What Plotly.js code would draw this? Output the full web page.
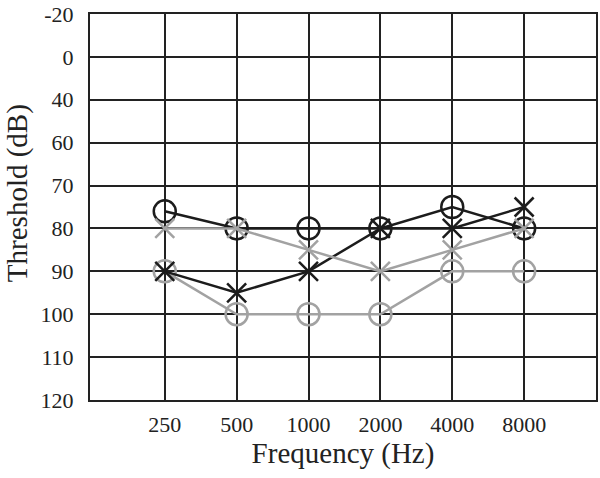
<!DOCTYPE html>
<html>
<head>
<meta charset="utf-8">
<script src="https://cdn.plot.ly/plotly-3.0.1.min.js"></script>
<style>html,body{margin:0;padding:0;background:#fff;}#chart{width:600px;height:478px;}</style>
</head>
<body>
<div id="chart"></div>
<script>
// Frequencies (Hz) as categories
const frequencies = ['250', '500', '1000', '2000', '4000', '8000'];
// Threshold values (dB) per series
const blackCircle = [76, 80, 80, 80, 75, 80];
const blackCross  = [90, 95, 90, 80, 80, 75];
const grayCross   = [80, 80, 85, 90, 85, 80];
const grayCircle  = [90, 100, 100, 100, 90, 90];
// Y tick layout: compressed upper part of the audiogram
const yTickVals = [30, 40, 50, 60, 70, 80, 90, 100, 110, 120];
const yTickText = ['-20', '0', '40', '60', '70', '80', '90', '100', '110', '120'];

const BLACK = '#1c1c1c';
const GRAY = '#a2a2a2';

function series(y, color, symbol, size) {
  return {
    type: 'scatter', mode: 'lines+markers',
    x: frequencies, y: y,
    line: {color: color, width: 2.5},
    marker: {symbol: symbol, size: size, color: color, line: {color: color, width: 2.5}},
    cliponaxis: false, showlegend: false
  };
}

const data = [
  series(grayCircle, GRAY, 'circle-open', 22),
  series(blackCircle, BLACK, 'circle-open', 22),
  series(blackCross, BLACK, 'x-thin-open', 19),
  series(grayCross, GRAY, 'x-thin-open', 19)
];

const font = "'Liberation Serif', 'Times New Roman', Times, serif";
const layout = {
  width: 600, height: 478,
  margin: {l: 90, r: 4, t: 14, b: 78},
  paper_bgcolor: '#fff', plot_bgcolor: '#fff',
  font: {family: font, color: '#222', size: 22},
  xaxis: {
    type: 'category', categoryorder: 'array', categoryarray: frequencies,
    range: [-1.04, 6],
    showgrid: true, gridcolor: '#222', gridwidth: 2,
    showline: true, linecolor: '#222', linewidth: 2, mirror: true,
    ticks: '', ticklabelstandoff: 4,
    tickfont: {family: font, size: 22, color: '#222'},
    title: {text: 'Frequency (Hz)', font: {family: font, size: 29, color: '#222'}, standoff: 6},
    zeroline: false, fixedrange: true
  },
  yaxis: {
    range: [120, 30],
    tickmode: 'array', tickvals: yTickVals, ticktext: yTickText,
    showgrid: true, gridcolor: '#222', gridwidth: 2,
    showline: true, linecolor: '#222', linewidth: 2, mirror: true,
    ticks: '', ticklabelstandoff: 10,
    tickfont: {family: font, size: 22, color: '#222'},
    zeroline: false, fixedrange: true
  },
  annotations: [{
    text: 'Threshold (dB)', xref: 'paper', yref: 'paper',
    x: -0.143, y: 0.535, xanchor: 'center', yanchor: 'middle',
    textangle: -90, showarrow: false,
    font: {family: font, size: 29, color: '#222'}
  }]
};

Plotly.newPlot('chart', data, layout, {displayModeBar: false, staticPlot: true});
</script>
</body>
</html>
